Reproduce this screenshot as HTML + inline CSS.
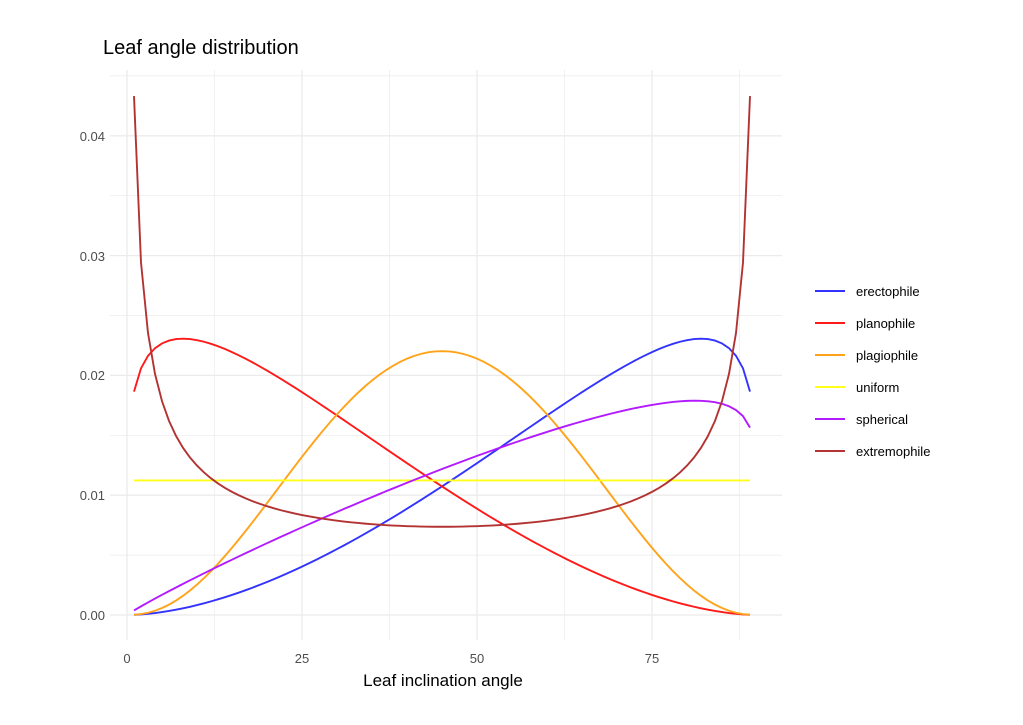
<!DOCTYPE html>
<html><head><meta charset="utf-8"><style>
body{margin:0;background:#fff;}
text{font-family:"Liberation Sans",sans-serif;}
</style></head><body>
<svg id="s" width="1023" height="720" xmlns="http://www.w3.org/2000/svg">
<rect width="1023" height="720" fill="#fff"/>
<g id="grid"></g>
<g id="curves" fill="none" stroke-width="1.9"></g>
<text x="103" y="54" font-size="20" fill="#000">Leaf angle distribution</text>
<text x="443" y="686" font-size="17" text-anchor="middle" fill="#000">Leaf inclination angle</text>
<g font-size="13" fill="#4d4d4d" text-anchor="end">
<text x="105" y="620">0.00</text><text x="105" y="500">0.01</text><text x="105" y="380">0.02</text><text x="105" y="261">0.03</text><text x="105" y="141">0.04</text>
</g>
<g font-size="13" fill="#4d4d4d" text-anchor="middle">
<text x="127" y="663">0</text><text x="302" y="663">25</text><text x="477" y="663">50</text><text x="652" y="663">75</text>
</g>
<g id="leg" font-size="13" fill="#000"></g>
</svg>
<script>
var ns="http://www.w3.org/2000/svg";
function X(v){return 127+v*7.0;}
function Y(v){return 615-v*11980;}
var g=document.getElementById('grid');
function ln(p,x1,y1,x2,y2,c,w){var l=document.createElementNS(ns,'line');l.setAttribute('x1',x1);l.setAttribute('y1',y1);l.setAttribute('x2',x2);l.setAttribute('y2',y2);l.setAttribute('stroke',c);l.setAttribute('stroke-width',w);p.appendChild(l);}
for(var i=0;i<10;i++){var v=i*0.005;ln(g,110,Y(v),782,Y(v),'#ebebeb',i%2?0.7:1.3);}
for(var i=0;i<8;i++){var v=i*12.5;ln(g,X(v),70,X(v),640,'#ebebeb',i%2?0.7:1.3);}
var specs=[
['erectophile','#3333ff',function(t){return Math.pow(t,1.77)*Math.pow(1-t,0.172);}],
['planophile','#ff1a1a',function(t){return Math.pow(t,0.172)*Math.pow(1-t,1.77);}],
['plagiophile','#ffa31a',function(t){return Math.pow(t,2.326)*Math.pow(1-t,2.326);}],
['uniform','#ffff1a',function(t){return 1;}],
['spherical','#b31aff',function(t){return Math.pow(t,0.930)*Math.pow(1-t,0.101);}],
['extremophile','#b33333',function(t){return Math.pow(t,-0.567)*Math.pow(1-t,-0.567);}]
];
var cg=document.getElementById('curves'),lg=document.getElementById('leg');
specs.forEach(function(s,k){
 var vals=[],sum=0;
 for(var x=1;x<=89;x++){var v=s[2](x/90);vals.push(v);sum+=v;}
 var d='';
 for(var x=1;x<=89;x++){d+=(x==1?'M':'L')+X(x).toFixed(2)+','+Y(vals[x-1]/sum).toFixed(2);}
 var p=document.createElementNS(ns,'path');p.setAttribute('d',d);p.setAttribute('stroke',s[1]);cg.appendChild(p);
 var y=291+k*32;
 ln(lg,815,y,845,y,s[1],1.9);
 var t=document.createElementNS(ns,'text');t.setAttribute('x',856);t.setAttribute('y',y+5);t.textContent=s[0];lg.appendChild(t);
});
</script>
</body></html>
